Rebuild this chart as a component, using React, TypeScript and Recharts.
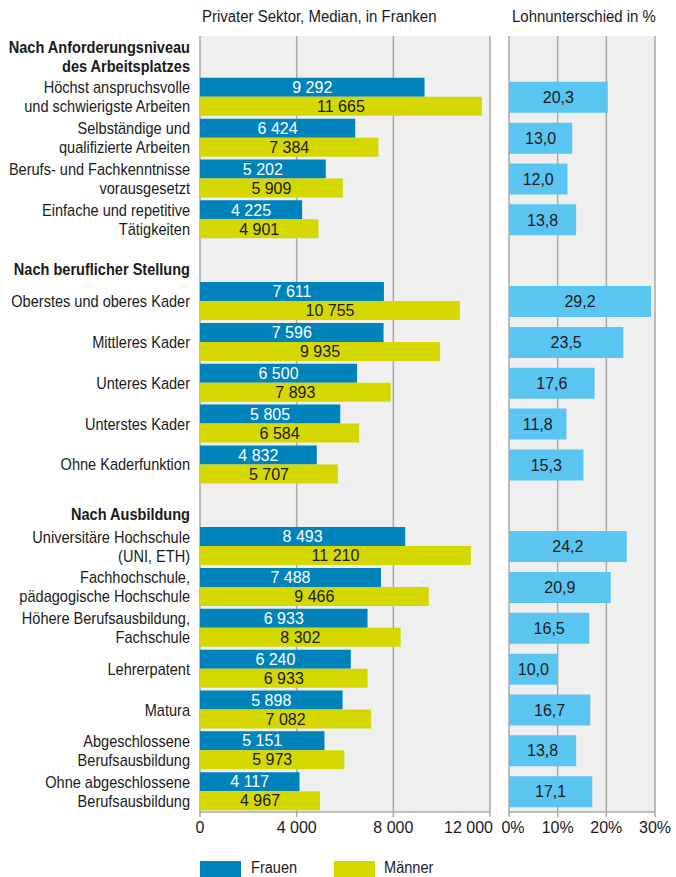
import { BarChart, Bar, XAxis, YAxis, CartesianGrid, LabelList } from 'recharts';

const FONT = "'Liberation Sans', Arial, sans-serif";
const NARROW = 0.91;

const categories = [
    'Nach Anforderungsniveau\ndes Arbeitsplatzes',
    'Höchst anspruchsvolle\nund schwierigste Arbeiten',
    'Selbständige und\nqualifizierte Arbeiten',
    'Berufs- und Fachkenntnisse\nvorausgesetzt',
    'Einfache und repetitive\nTätigkeiten',
    'Nach beruflicher Stellung',
    'Oberstes und oberes Kader',
    'Mittleres Kader',
    'Unteres Kader',
    'Unterstes Kader',
    'Ohne Kaderfunktion',
    'Nach Ausbildung',
    'Universitäre Hochschule\n(UNI, ETH)',
    'Fachhochschule,\npädagogische Hochschule',
    'Höhere Berufsausbildung,\nFachschule',
    'Lehrerpatent',
    'Matura',
    'Abgeschlossene\nBerufsausbildung',
    'Ohne abgeschlossene\nBerufsausbildung',
];
const headerRows = [0, 5, 11];

const frauen = [null, 9292, 6424, 5202, 4225, null, 7611, 7596, 6500, 5805, 4832, null, 8493, 7488, 6933, 6240, 5898, 5151, 4117];
const maenner = [null, 11665, 7384, 5909, 4901, null, 10755, 9935, 7893, 6584, 5707, null, 11210, 9466, 8302, 6933, 7082, 5973, 4967];
const lohnunterschied = [null, 20.3, 13.0, 12.0, 13.8, null, 29.2, 23.5, 17.6, 11.8, 15.3, null, 24.2, 20.9, 16.5, 10.0, 16.7, 13.8, 17.1];

const frankenTicks = [0, 4000, 8000, 12000];
const prozentTicks = [0, 10, 20, 30];

const data = categories.map((name, i) => ({
    name,
    frauen: frauen[i],
    maenner: maenner[i],
    diff: lohnunterschied[i],
}));

const fmtFranken = (v: any) => (v == null ? '' : String(v).replace(/\B(?=(\d{3})+(?!\d))/g, ' '));
const fmtProzent = (v: any) => (v == null ? '' : Number(v).toFixed(1).replace('.', ','));

const TEXT = '#1a1a1a';
const GRID = '#a9a9a9';
const PANEL = '#efefef';

const CategoryTick = (props: any) => {
    const { x, y, payload } = props;
    const label: string = payload.value;
    const header = headerRows.includes(categories.indexOf(label));
    const lines = label.split('\n');
    const shift = header && lines.length === 1 ? 9 : 0;
    return (
        <g transform={`translate(${x},${y}) scale(${NARROW},1)`}>
            <text x={0} y={0} textAnchor="end" fontFamily={FONT} fontSize={16} fontWeight={header ? 700 : 400} fill={TEXT}>
                {lines.map((l, i) => (
                    <tspan key={i} x={0} y={shift + (i - (lines.length - 1) / 2) * 19} dy="0.35em">
                        {l}
                    </tspan>
                ))}
            </text>
        </g>
    );
};

const ValueTick = (props: any) => {
    const { x, y, payload, index, visibleTicksCount, suffix } = props;
    const last = index === visibleTicksCount - 1;
    const first = index === 0;
    const anchor = !suffix && last ? 'end' : 'middle';
    const dx = !suffix && last ? 3 : suffix && first ? 4 : 0;
    const text = suffix ? `${payload.value}${suffix}` : fmtFranken(payload.value);
    return (
        <text x={x + dx} y={y + 14} textAnchor={anchor} fontFamily={FONT} fontSize={16} fill={TEXT}>
            {text}
        </text>
    );
};

const titleStyle = {
    position: 'absolute' as const,
    top: 8,
    fontSize: 16,
    color: TEXT,
    whiteSpace: 'nowrap' as const,
    transform: 'scaleX(0.935)',
    transformOrigin: 'left',
};

export default function App() {
    return (
        <div style={{ position: 'absolute', left: 0, top: 0, width: 676, height: 877, background: '#fff', fontFamily: FONT }}>
            <div style={{ ...titleStyle, left: 202 }}>Privater Sektor, Median, in Franken</div>
            <div style={{ ...titleStyle, left: 512 }}>Lohnunterschied in %</div>

            <div style={{ position: 'absolute', left: 0, top: 0 }}>
                <BarChart width={500} height={842} data={data} layout="vertical" barGap={0}
                    margin={{ top: 36, right: 10, left: 0, bottom: 0 }}>
                    <CartesianGrid horizontal={false} fill={PANEL} stroke={GRID} strokeWidth={1.5} />
                    <XAxis type="number" domain={[0, 12000]} ticks={frankenTicks} height={30}
                        axisLine={{ stroke: GRID, strokeWidth: 1.5 }} tickLine={{ stroke: GRID, strokeWidth: 1.5 }}
                        tickSize={5} tick={<ValueTick />} interval={0} />
                    <XAxis xAxisId="top" orientation="top" type="number" domain={[0, 12000]} height={0}
                        tick={false} tickLine={false} axisLine={{ stroke: GRID, strokeWidth: 1.5 }} />
                    <YAxis type="category" dataKey="name" width={200} axisLine={false} tickLine={false}
                        tickSize={0} tickMargin={10} interval={0} tick={<CategoryTick />} />
                    <Bar dataKey="frauen" fill="#0083bb" barSize={19} isAnimationActive={false}>
                        <LabelList dataKey="frauen" position="center" formatter={fmtFranken}
                            fill="#ffffff" fontSize={16} fontFamily={FONT} />
                    </Bar>
                    <Bar dataKey="maenner" fill="#d4d800" barSize={19} isAnimationActive={false}>
                        <LabelList dataKey="maenner" position="center" formatter={fmtFranken}
                            fill={TEXT} fontSize={16} fontFamily={FONT} />
                    </Bar>
                </BarChart>
            </div>

            <div style={{ position: 'absolute', left: 500, top: 0 }}>
                <BarChart width={176} height={842} data={data} layout="vertical"
                    margin={{ top: 36, right: 21, left: 9, bottom: 0 }}>
                    <CartesianGrid horizontal={false} fill={PANEL} stroke={GRID} strokeWidth={1.5} />
                    <XAxis type="number" domain={[0, 30]} ticks={prozentTicks} height={30}
                        axisLine={{ stroke: GRID, strokeWidth: 1.5 }} tickLine={{ stroke: GRID, strokeWidth: 1.5 }}
                        tickSize={5} tick={<ValueTick suffix="%" />} interval={0} />
                    <XAxis xAxisId="top" orientation="top" type="number" domain={[0, 30]} height={0}
                        tick={false} tickLine={false} axisLine={{ stroke: GRID, strokeWidth: 1.5 }} />
                    <YAxis type="category" dataKey="name" hide />
                    <Bar dataKey="diff" fill="#5bc5f2" barSize={31} isAnimationActive={false}>
                        <LabelList dataKey="diff" position="center" formatter={fmtProzent}
                            fill={TEXT} fontSize={16} fontFamily={FONT} />
                    </Bar>
                </BarChart>
            </div>

            <div style={{ position: 'absolute', left: 200, top: 861, width: 41, height: 16, background: '#0083bb' }} />
            <div style={{ ...titleStyle, left: 251, top: 859, transform: `scaleX(${NARROW})` }}>Frauen</div>
            <div style={{ position: 'absolute', left: 334, top: 861, width: 41, height: 16, background: '#d4d800' }} />
            <div style={{ ...titleStyle, left: 384, top: 859, transform: `scaleX(${NARROW})` }}>Männer</div>
        </div>
    );
}
